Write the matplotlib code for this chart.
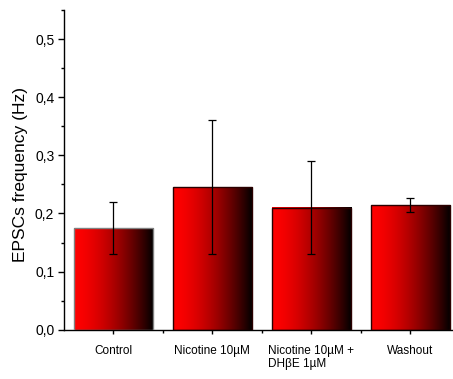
import numpy as np
import matplotlib
matplotlib.use("Agg")
import matplotlib.pyplot as plt
from matplotlib.ticker import MultipleLocator, FuncFormatter, FixedLocator
from matplotlib.colors import ListedColormap

categories = ["Control", "Nicotine 10\u00b5M", "Nicotine 10\u00b5M +\nDH\u03b2E 1\u00b5M", "Washout"]
means = [0.175, 0.245, 0.210, 0.214]
err_low = [0.130, 0.130, 0.130, 0.202]
err_high = [0.220, 0.360, 0.290, 0.226]
edge_colors = ["#808080", "#2a0000", "#2a0000", "#2a0000"]

plt.rcParams['font.family'] = ['Liberation Sans', 'DejaVu Sans']

fig = plt.figure(figsize=(4.53, 3.79), dpi=100)
ax = fig.add_axes([64/453, 49.3/379, 1 - 64/453, 319.7/379])

x = np.arange(1, len(categories) + 1)
bars = ax.bar(x, means, width=0.8, color='none', edgecolor=edge_colors, linewidth=1.0, zorder=3)

# gradient fill
t = np.linspace(0, 1, 256)
r = 1 - t ** 1.6
cols = np.stack([r, np.zeros_like(r), np.zeros_like(r), np.ones_like(r)], axis=1)
cmap = ListedColormap(cols)
grad = np.linspace(0, 1, 256).reshape(1, -1)
for b in bars:
    bx, by, bw, bh = b.get_x(), b.get_y(), b.get_width(), b.get_height()
    ax.imshow(grad, cmap=cmap, extent=[bx, bx + bw, by, by + bh], aspect='auto', zorder=2, interpolation='bilinear')

yerr = [np.array(means) - np.array(err_low), np.array(err_high) - np.array(means)]
ax.errorbar(x, means, yerr=yerr, fmt='none', ecolor='black', elinewidth=0.9, capsize=3, capthick=0.9, zorder=4)

ax.set_xlim(0.5, 0.5 + (453 - 63.5) / 99)
ax.set_ylim(0, 0.55)

ax.spines['top'].set_visible(False)
ax.spines['right'].set_visible(False)
ax.spines['left'].set_linewidth(1.0)
ax.spines['bottom'].set_linewidth(1.0)

ax.yaxis.set_major_locator(MultipleLocator(0.1))
ax.yaxis.set_minor_locator(MultipleLocator(0.05))
ax.yaxis.set_major_formatter(FuncFormatter(lambda v, p: f"{v:.1f}".replace('.', ',')))
ax.tick_params(axis='y', which='major', length=4, width=1, labelsize=10, pad=3)
ax.tick_params(axis='y', which='minor', length=2.5, width=1)

ax.set_xticks(x)
ax.set_xticklabels(categories, fontsize=8.5, multialignment='left', linespacing=1.15)
ax.xaxis.set_minor_locator(FixedLocator([1.5, 2.5, 3.5]))
ax.tick_params(axis='x', which='major', length=3, width=1, pad=8)
ax.tick_params(axis='x', which='minor', length=2, width=1)

ax.set_ylabel("EPSCs frequency (Hz)", fontsize=12.5)
ax.yaxis.set_label_coords(-(64 - 28) / 389, (329.7 - 175) / 319.7)

fig.savefig("out.png", dpi=100)
